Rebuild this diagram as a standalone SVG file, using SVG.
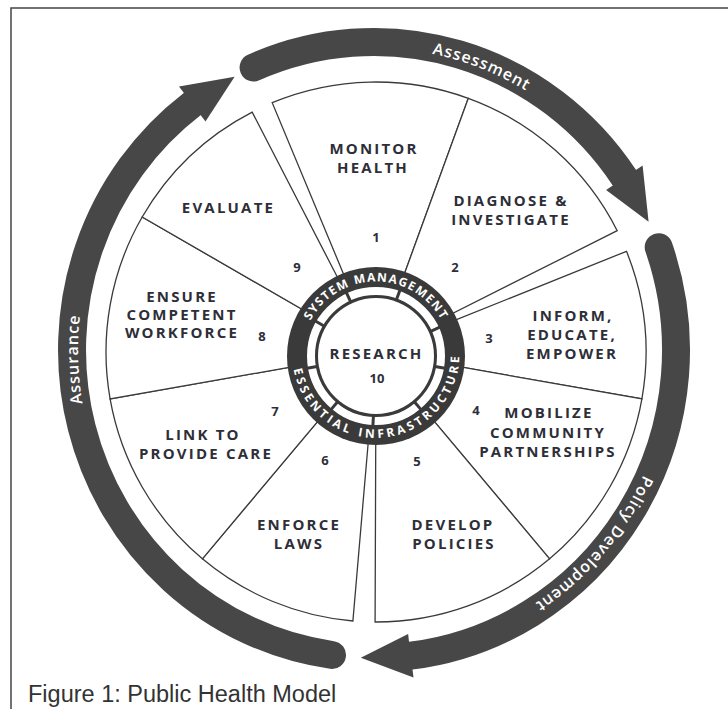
<svg xmlns="http://www.w3.org/2000/svg" width="728" height="709" viewBox="0 0 728 709">
<style>
.seg{fill:#fff;stroke:#3a3a3a;stroke-width:1.3}
.lbl{font-family:"Open Sans","DejaVu Sans",sans-serif;font-weight:700;font-size:15px;letter-spacing:2.2px;fill:#2e2e38;text-anchor:middle}
.num{font-family:"Open Sans","DejaVu Sans",sans-serif;font-weight:700;font-size:13px;fill:#2e2e38;text-anchor:middle}
.band{fill:none;stroke:#474747;stroke-width:28;stroke-linecap:round}
.head{fill:#474747}
.arcText{font-family:"Open Sans","DejaVu Sans",sans-serif;font-weight:600;font-size:16px;letter-spacing:1px;fill:#fff}
.ringText{font-family:"Open Sans","DejaVu Sans",sans-serif;font-weight:700;font-size:12px;fill:#fff}
.tick{stroke:#3a3a3a;stroke-width:3}
</style>
<defs>
<path id="pAssess" d="M277.6,64.5 A296,302 0 0 1 632.9,203.6"/>
<path id="pAssur" d="M153.3,551.3 A296,302 0 0 1 141.4,163.2"/>
<path id="pPolicy" d="M669.9,355.3 A296,302 0 0 1 420.3,648.3"/>
<path id="pTop" d="M301.5,356 A74.5,74.5 0 0 1 450.5,356"/>
<path id="pBot" d="M292.9,364 A83.5,83.5 0 0 0 459.1,348"/>
</defs>
<rect width="728" height="709" fill="#fff"/>
<path d="M11,709 L11,8 L728,8" fill="none" stroke="#444" stroke-width="1.5"/>

<g id="connectors">
  <g id="assessment">
    <path class="band" d="M253.6,67.5 A302,308 0 0 1 624.4,177.8"/>
    <polygon class="head" points="606.1,190.1 642.6,165.5 648.6,221.8"/>
    <text class="arcText"><textPath href="#pAssess" startOffset="50%" text-anchor="middle">Assessment</textPath></text>
  </g>
  <g id="policy-development">
    <path class="band" d="M658.7,247.2 A302,308 0 0 1 410.8,655.7"/>
    <polygon class="head" points="408.1,633.9 413.5,677.5 360.8,657.7"/>
    <text class="arcText"><textPath href="#pPolicy" startOffset="50%" text-anchor="middle">Policy Development</textPath></text>
  </g>
  <g id="assurance">
    <path class="band" d="M332.0,655.0 A302,308 0 0 1 192.3,104.0"/>
    <polygon class="head" points="205.5,121.6 179.0,86.5 234.6,76.8"/>
    <text class="arcText"><textPath href="#pAssur" startOffset="50%" text-anchor="middle">Assurance</textPath></text>
  </g>
</g>

<g id="seg1">
  <path class="seg" d="M349.1,287.4 L272.2,102.7 A270,270 0 0 1 468.3,98.3 L399.9,286.2 Z"/>
  <text class="lbl" x="374" y="153.5">MONITOR</text>
  <text class="lbl" x="373" y="172.5">HEALTH</text>
  <text class="num" x="376" y="241.7">1</text>
</g>
<g id="seg2">
  <path class="seg" d="M399.9,286.2 L468.3,98.3 A270,270 0 0 1 617.2,230.7 L438.5,320.5 Z"/>
  <text class="lbl" x="511" y="205.5">DIAGNOSE &amp;</text>
  <text class="lbl" x="511" y="224.5">INVESTIGATE</text>
  <text class="num" x="455" y="271.7">2</text>
</g>
<g id="seg3">
  <path class="seg" d="M440.9,325.9 L626.5,251.3 A270,270 0 0 1 641.9,398.9 L444.9,364.2 Z"/>
  <text class="lbl" x="573" y="320.5">INFORM,</text>
  <text class="lbl" x="572" y="339.5">EDUCATE,</text>
  <text class="lbl" x="572" y="358.5">EMPOWER</text>
  <text class="num" x="489" y="342.7">3</text>
</g>
<g id="seg4">
  <path class="seg" d="M444.9,364.2 L641.9,398.9 A270,270 0 0 1 549.6,558.8 L421.0,405.6 Z"/>
  <text class="lbl" x="549" y="418">MOBILIZE</text>
  <text class="lbl" x="548" y="437.5">COMMUNITY</text>
  <text class="lbl" x="548" y="456.5">PARTNERSHIPS</text>
  <text class="num" x="476" y="415.2">4</text>
</g>
<g id="seg5">
  <path class="seg" d="M421.0,405.6 L549.6,558.8 A270,270 0 0 1 375.1,622 L375.8,422.0 Z"/>
  <text class="lbl" x="453" y="529.8">DEVELOP</text>
  <text class="lbl" x="454" y="549.3">POLICIES</text>
  <text class="num" x="417" y="466">5</text>
</g>
<g id="seg6">
  <path class="seg" d="M370.0,421.7 L352.9,621.0 A270,270 0 0 1 202.4,558.8 L331.0,405.6 Z"/>
  <text class="lbl" x="299" y="529.5">ENFORCE</text>
  <text class="lbl" x="299" y="548.5">LAWS</text>
  <text class="num" x="325" y="464.5">6</text>
</g>
<g id="seg7">
  <path class="seg" d="M331.0,405.6 L202.4,558.8 A270,270 0 0 1 110.1,398.9 L307.1,364.2 Z"/>
  <text class="lbl" x="203" y="439.5">LINK TO</text>
  <text class="lbl" x="206" y="458.5">PROVIDE CARE</text>
  <text class="num" x="275" y="415.7">7</text>
</g>
<g id="seg8">
  <path class="seg" d="M307.1,364.2 L110.1,398.9 A270,270 0 0 1 142.2,217 L315.4,317.0 Z"/>
  <text class="lbl" x="182" y="301.5">ENSURE</text>
  <text class="lbl" x="182" y="319.5">COMPETENT</text>
  <text class="lbl" x="182" y="338">WORKFORCE</text>
  <text class="num" x="262" y="341">8</text>
</g>
<g id="seg9">
  <path class="seg" d="M315.4,317.0 L142.2,217 A270,270 0 0 1 252.2,112.1 L343.9,289.8 Z"/>
  <text class="lbl" x="228.5" y="213">EVALUATE</text>
  <text class="num" x="297" y="271.7">9</text>
</g>

<g id="center">
  <circle cx="376" cy="356" r="89" fill="#3a3a3a"/>
  <circle cx="376" cy="356" r="65" fill="none" stroke="#fff" stroke-width="8"/>
  <line class="tick" x1="350.6" y1="301.6" x2="346.4" y2="292.6"/>
  <line class="tick" x1="396.5" y1="299.6" x2="399.9" y2="290.2"/>
  <line class="tick" x1="430.7" y1="331.3" x2="439.8" y2="327.2"/>
  <line class="tick" x1="435.1" y1="366.4" x2="444.9" y2="368.2"/>
  <line class="tick" x1="414.6" y1="402.0" x2="421.0" y2="409.6"/>
  <line class="tick" x1="373.4" y1="415.9" x2="372.9" y2="425.9"/>
  <line class="tick" x1="337.4" y1="402.0" x2="331.0" y2="409.6"/>
  <line class="tick" x1="316.9" y1="366.4" x2="307.1" y2="368.2"/>
  <line class="tick" x1="324.0" y1="326.0" x2="315.4" y2="321.0"/>
  <circle cx="376" cy="356" r="58" fill="#fff"/>
  <text class="ringText" letter-spacing="1.4"><textPath href="#pTop" startOffset="50%" text-anchor="middle">SYSTEM MANAGEMENT</textPath></text>
  <text class="ringText" letter-spacing="3.2"><textPath href="#pBot" startOffset="50%" text-anchor="middle">ESSENTIAL INFRASTRUCTURE</textPath></text>
  <text class="lbl" x="376.5" y="359" letter-spacing="2.9">RESEARCH</text>
  <text class="num" x="377" y="382.5">10</text>
</g>

<text x="28" y="702" font-family="'Liberation Sans',Arial,sans-serif" font-size="23.5" fill="#333">Figure 1: Public Health Model</text>
</svg>
